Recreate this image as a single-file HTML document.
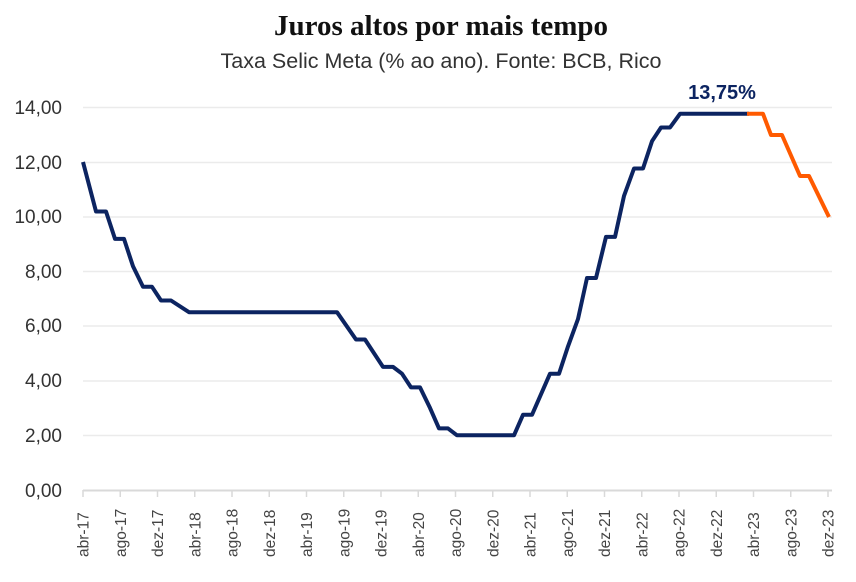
<!DOCTYPE html>
<html><head><meta charset="utf-8"><style>
body{margin:0;background:#fff}
</style></head><body>
<svg width="856" height="577" xmlns="http://www.w3.org/2000/svg" font-family="Liberation Sans, sans-serif">
<text x="441" y="35" text-anchor="middle" font-family="Liberation Serif, serif" font-weight="bold" font-size="29" fill="#111">Juros altos por mais tempo</text>
<text x="441" y="68" text-anchor="middle" font-size="21.5" fill="#333">Taxa Selic Meta (% ao ano). Fonte: BCB, Rico</text>
<g stroke="#ebebeb" stroke-width="1.5">
<line x1="83" x2="832" y1="107.5" y2="107.5"/><line x1="83" x2="832" y1="162.5" y2="162.5"/>
<line x1="83" x2="832" y1="217" y2="217"/><line x1="83" x2="832" y1="271.5" y2="271.5"/>
<line x1="83" x2="832" y1="326" y2="326"/><line x1="83" x2="832" y1="381" y2="381"/>
<line x1="83" x2="832" y1="435.5" y2="435.5"/>
</g>
<line x1="83" x2="832" y1="490.5" y2="490.5" stroke="#d9d9d9" stroke-width="2"/>
<g font-size="19" fill="#333" text-anchor="end">
<text x="62" y="114">14,00</text><text x="62" y="169">12,00</text><text x="62" y="223">10,00</text>
<text x="62" y="278">8,00</text><text x="62" y="332">6,00</text><text x="62" y="387">4,00</text>
<text x="62" y="442">2,00</text><text x="62" y="497">0,00</text>
</g>
<g stroke="#d9d9d9" stroke-width="1.5" id="ticks"></g>
<g font-size="15.5" fill="#444" id="xl"></g>
<polyline fill="none" stroke="#0c2461" stroke-width="4" stroke-linejoin="round" points="83,162 96,211.5 106,211.5 115,238.9 124,238.9 133,266.3 143,286.8 152,286.8 161,300.5 171,300.5 189,312.2 337,312.2 356,339.5 365,339.5 383,366.9 393,366.9 402,373.7 411,387.4 420,387.4 430,407.9 439,428.4 448,428.4 457,435.3 514,435.3 523,414.8 532,414.8 550,373.7 559,373.7 568,346.4 578,319 587,278 596,278 606,236.9 615,236.9 624,195.9 634,168.5 643,168.5 652,141.2 661,127.5 670,127.5 680,113.8 749,113.8"/>
<polyline fill="none" stroke="#ff5a00" stroke-width="4" stroke-linejoin="round" points="747,113.8 763,113.8 771,135 782,135 800,176 809,176 829,217"/>
<text x="722" y="99" text-anchor="middle" font-weight="bold" font-size="20" fill="#0c2461">13,75%</text>
<script>
var labs=["abr-17","ago-17","dez-17","abr-18","ago-18","dez-18","abr-19","ago-19","dez-19","abr-20","ago-20","dez-20","abr-21","ago-21","dez-21","abr-22","ago-22","dez-22","abr-23","ago-23","dez-23"];
var t=document.getElementById('ticks'),x=document.getElementById('xl'),ns="http://www.w3.org/2000/svg";
labs.forEach(function(l,i){var px=83+i*37.25;
var ln=document.createElementNS(ns,'line');ln.setAttribute('x1',px);ln.setAttribute('x2',px);ln.setAttribute('y1',490);ln.setAttribute('y2',497);t.appendChild(ln);
var tx=document.createElementNS(ns,'text');tx.setAttribute('transform','translate('+(px+5.5)+',557) rotate(-90)');tx.textContent=l;x.appendChild(tx);});
</script>
</svg>
</body></html>
